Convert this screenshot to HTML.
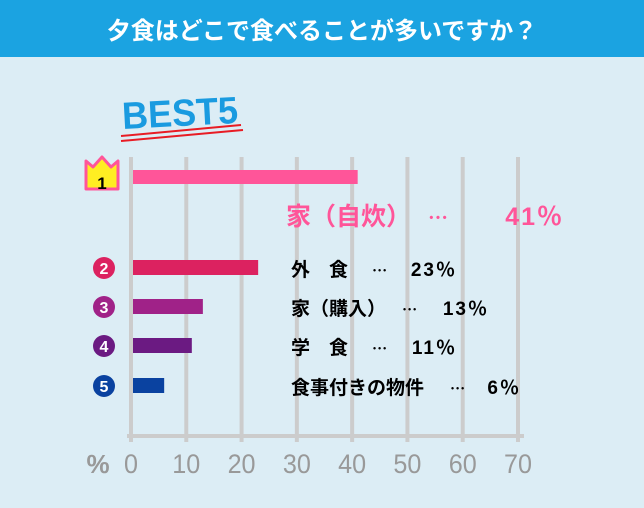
<!DOCTYPE html>
<html><head><meta charset="utf-8"><style>
body{margin:0;width:644px;height:503px;overflow:hidden;background:#dcedf5;font-family:"Liberation Sans","Noto Sans CJK JP",sans-serif}
</style></head><body>
<svg id="c" width="644" height="503" xmlns="http://www.w3.org/2000/svg" font-family="Liberation Sans, Noto Sans CJK JP, sans-serif">
<rect x="0" y="0" width="644" height="503" fill="#dcedf5"/>
<rect x="0" y="0" width="644" height="57" fill="#1ba3e1"/>
<text x="322" y="39" text-anchor="middle" fill="#fff" font-size="24" font-weight="bold">夕食はどこで食べることが多いですか？</text>
<text x="122" y="126" fill="#1a9be0" font-size="38" font-weight="bold" textLength="116" lengthAdjust="spacingAndGlyphs" transform="rotate(-3 180 112)">BEST5</text>
<line x1="121" y1="136" x2="241" y2="125" stroke="#e81c24" stroke-width="2"/>
<line x1="121" y1="141" x2="243" y2="130" stroke="#e81c24" stroke-width="2"/>
<g id="grid"></g>
<g id="bars"></g>
<text x="98" y="473" text-anchor="middle" fill="#999" font-size="26" font-weight="bold">%</text>
</svg>
<script>
const categories=["家（自炊）","外　食","家（購入）","学　食","食事付きの物件"];
const values=[41,23,13,11,6];
const valueLabels=["41％","23％","13％","11％","6％"];
const ticks=[0,10,20,30,40,50,60,70];
const colors=["#ff5599","#dc2260","#a02288","#6b1a82","#0a42a0"];
const dotsX=[428,372,402,372,450];
const valueEndX=[564,457,489,457,521];
const NS="http://www.w3.org/2000/svg";
const x=v=>131+v*(387/70);
const rowY=[170,260,299,338,378];
function mk(t,a,p){const e=document.createElementNS(NS,t);for(const k in a)e.setAttribute(k,a[k]);p.appendChild(e);return e;}
const g=document.getElementById('grid'),b=document.getElementById('bars');
ticks.forEach(t=>{
 const l=mk('line',{x1:x(t),x2:x(t),y1:157,y2:442,stroke:'#cccccc','stroke-width':4},g);
 
 
 const s=String(t);
 const tx=mk('text',{x:x(t)-s.length*7,y:473,fill:'#999','font-size':27,textLength:s.length*14,lengthAdjust:'spacingAndGlyphs'},g);
 tx.textContent=s;
 
 
});
const ax=mk('line',{x1:127,x2:524,y1:436,y2:436,stroke:'#cccccc','stroke-width':4},g);


values.forEach((v,i)=>{
 const y=rowY[i],h=i==0?14:15;
 const r=mk('rect',{x:x(0)+2,y:y,width:x(v)-x(0)-2,height:h,fill:colors[i]},b);
 
 
 let fs,ly,lx,fill;
 if(i==0){
  const cr=mk('path',{d:'M86 174 L86 161 L93 167 L102 157 L111 167 L118 161 L118 189 L86 189 Z',fill:'#ffee22',stroke:'#ff5599','stroke-width':3,'stroke-linejoin':'round'},b);
  
  
  const n=mk('text',{x:102,y:189,'text-anchor':'middle','font-size':17,'font-weight':'bold',fill:'#000'},b);n.textContent='1';
  
  
  fs=25;ly=225;lx=286;fill='#ff5599';
 }else{
  const c=mk('circle',{cx:104,cy:y+8,r:11,fill:colors[i]},b);
  
  
  const n=mk('text',{x:104,y:y+14,'text-anchor':'middle','font-size':16,'font-weight':'bold',fill:'#fff'},b);n.textContent=i+1;
  
  
  fs=19;ly=y+16;lx=291;fill='#000';
 }
 const lb=mk('text',{x:lx,y:ly,'font-size':fs,'font-weight':'bold',fill:fill},b);
 lb.textContent=categories[i];
 
 
 const d=mk('text',{x:dotsX[i],y:ly,'font-size':fs*0.8,'font-weight':'bold',fill:fill,'font-family':'Noto Sans CJK JP, sans-serif'},b);
 d.textContent='⋯';
 
 
 const vl=mk('text',{x:valueEndX[i],y:ly,'text-anchor':'end','font-size':fs,'font-weight':'bold',fill:fill,'letter-spacing':2},b);
 vl.textContent=valueLabels[i];
 
 
});
</script>
</body></html>
